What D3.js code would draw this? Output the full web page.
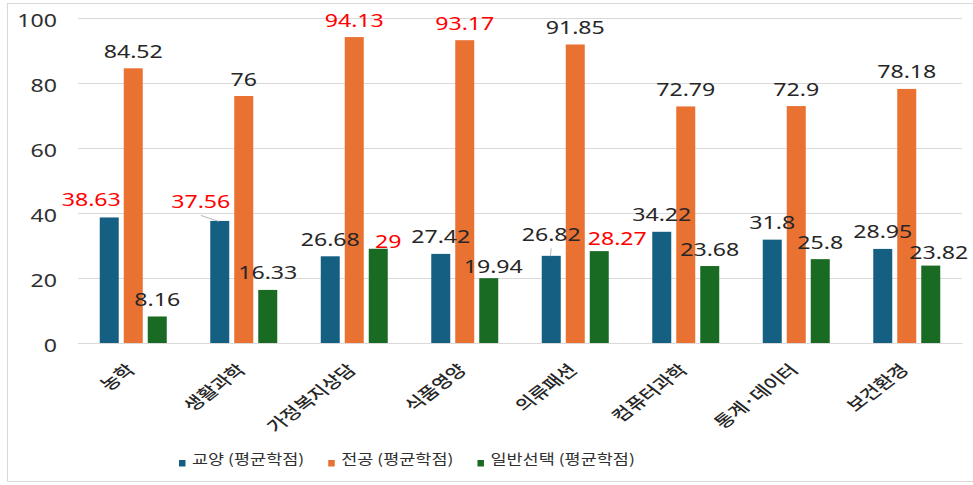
<!DOCTYPE html>
<html>
<head>
<meta charset="utf-8">
<script src="https://cdn.jsdelivr.net/npm/d3@7"></script>
<style>
  html, body { margin: 0; padding: 0; background: #fff; }
  svg { display: block; }
</style>
</head>
<body>
<svg id="chart" width="973" height="485"></svg>
<script>
// ---------------- data ----------------
const categories = ["농학", "생활과학", "가정복지상담", "식품영양", "의류패션", "컴퓨터과학", "통계·데이터", "보건환경"];
const seriesNames = ["교양 (평균학점)", "전공 (평균학점)", "일반선택 (평균학점)"];
const liberalValues = [38.63, 37.56, 26.68, 27.42, 26.82, 34.22, 31.8, 28.95];
const majorValues   = [84.52, 76, 94.13, 93.17, 91.85, 72.79, 72.9, 78.18];
const generalValues = [8.16, 16.33, 29, 19.94, 28.27, 23.68, 25.8, 23.82];
const yTickValues = [0, 20, 40, 60, 80, 100];
// which labels are highlighted in red (category indexes per series)
const liberalHighlight = [0, 1];
const majorHighlight = [2, 3];
const generalHighlight = [2, 4];

// ---------------- style / layout ----------------
const colors = ["#156082", "#E97132", "#196B24"];
const seriesValues = [liberalValues, majorValues, generalValues];
const highlights = [liberalHighlight, majorHighlight, generalHighlight];
// manual label nudges (dx, dy, leader) as placed in the reference
const nudges = [
  [[-18, -1, false], [-19, -2, true], null, null, [0, -4, true], null, null, null],
  [null, null, null, null, null, null, null, null],
  [null, null, [10, 10, false], [4.5, 5, false], [18, 4.5, false], null, null, [8, 4, false]]
];
const SX = 1.25;          // horizontal text stretch seen in the reference
const numFont = "'Noto Sans', 'DejaVu Sans', sans-serif";
const krFont = "'Noto Sans CJK KR', 'Noto Sans', sans-serif";

const svg = d3.select("#chart");
const plot = { left: 78, right: 962, top: 18, bottom: 343 };

// chart border
svg.append("rect")
  .attr("x", 7.5).attr("y", 3.5).attr("width", 980).attr("height", 478)
  .attr("fill", "#fff").attr("stroke", "#D9D9D9").attr("stroke-width", 1);

const y = d3.scaleLinear().domain([0, 100]).range([plot.bottom, plot.top]);
const x0 = d3.scaleBand().domain(categories).range([plot.left, plot.right]).paddingInner(0).paddingOuter(0);
const x1 = d3.scaleBand().domain(seriesNames).range([-36, 36]).paddingInner(5 / 24).paddingOuter(5 / 48);

// y axis + gridlines
const yAxis = svg.append("g")
  .attr("transform", `translate(${plot.left},0)`)
  .call(d3.axisLeft(y).tickValues(yTickValues).tickSize(-(plot.right - plot.left)).tickPadding(0));
yAxis.select(".domain").remove();
yAxis.selectAll(".tick line").attr("stroke", "#D9D9D9").attr("stroke-width", 1);
yAxis.selectAll(".tick text")
  .attr("x", null).attr("dy", null)
  .attr("transform", `translate(-21,8) scale(${SX},1)`)
  .attr("text-anchor", "end")
  .attr("fill", "#303030")
  .style("font-family", numFont)
  .style("font-size", "18.5px");

// x axis (labels only)
const xAxis = svg.append("g")
  .attr("transform", `translate(0,${plot.bottom})`)
  .call(d3.axisBottom(x0).tickSize(0).tickPadding(0));
xAxis.select(".domain").attr("stroke", "#D9D9D9");
xAxis.selectAll(".tick text")
  .attr("y", null).attr("dy", null)
  .attr("transform", `translate(3,28) scale(1.3,1) rotate(-45)`)
  .attr("text-anchor", "end")
  .attr("fill", "#262626")
  .style("font-family", krFont)
  .style("font-size", "16px")
  .style("font-weight", 500);

// bars
const groups = svg.append("g").selectAll("g")
  .data(categories)
  .join("g")
  .attr("transform", c => `translate(${x0(c) + x0.bandwidth() / 2},0)`);

seriesNames.forEach((s, si) => {
  groups.append("rect")
    .attr("x", x1(s))
    .attr("width", x1.bandwidth())
    .attr("y", (c, ci) => y(seriesValues[si][ci]))
    .attr("height", (c, ci) => y(0) - y(seriesValues[si][ci]))
    .attr("fill", colors[si]);
});

// data labels
const labelLayer = svg.append("g");
seriesNames.forEach((s, si) => {
  categories.forEach((c, ci) => {
    const v = seriesValues[si][ci];
    const bx = x0(c) + x0.bandwidth() / 2 + x1(s) + x1.bandwidth() / 2;
    const by = y(v);
    const n = nudges[si][ci];
    const lx = bx + (n ? n[0] : 0);
    const ly = by - 10.5 + (n ? n[1] : 0);
    if (n && n[2]) {
      labelLayer.append("line")
        .attr("x1", lx).attr("y1", ly + 7)
        .attr("x2", bx - 1).attr("y2", by + 0.5)
        .attr("stroke", "#A6A6A6").attr("stroke-width", 0.8);
    }
    labelLayer.append("text")
      .attr("transform", `translate(${lx},${ly}) scale(${SX},1)`)
      .attr("text-anchor", "middle")
      .attr("fill", highlights[si].includes(ci) ? "#FF0000" : "#262626")
      .style("font-family", numFont)
      .style("font-size", "18.5px")
      .text(String(v));
  });
});

// legend
const legend = svg.append("g");
let lxPos = 179;
seriesNames.forEach((s, si) => {
  const g = legend.append("g").attr("transform", `translate(${lxPos},0)`);
  g.append("rect").attr("x", 0).attr("y", 460).attr("width", 6.5).attr("height", 6.5).attr("fill", colors[si]);
  const t = g.append("text")
    .attr("transform", `translate(13,464) scale(${SX},1)`)
    .attr("fill", "#303030")
    .style("font-family", krFont)
    .style("font-size", "14px")
    .text(s);
  const w = t.node().getComputedTextLength() * SX;
  lxPos += 13 + w + 24;
});
</script>
</body>
</html>
